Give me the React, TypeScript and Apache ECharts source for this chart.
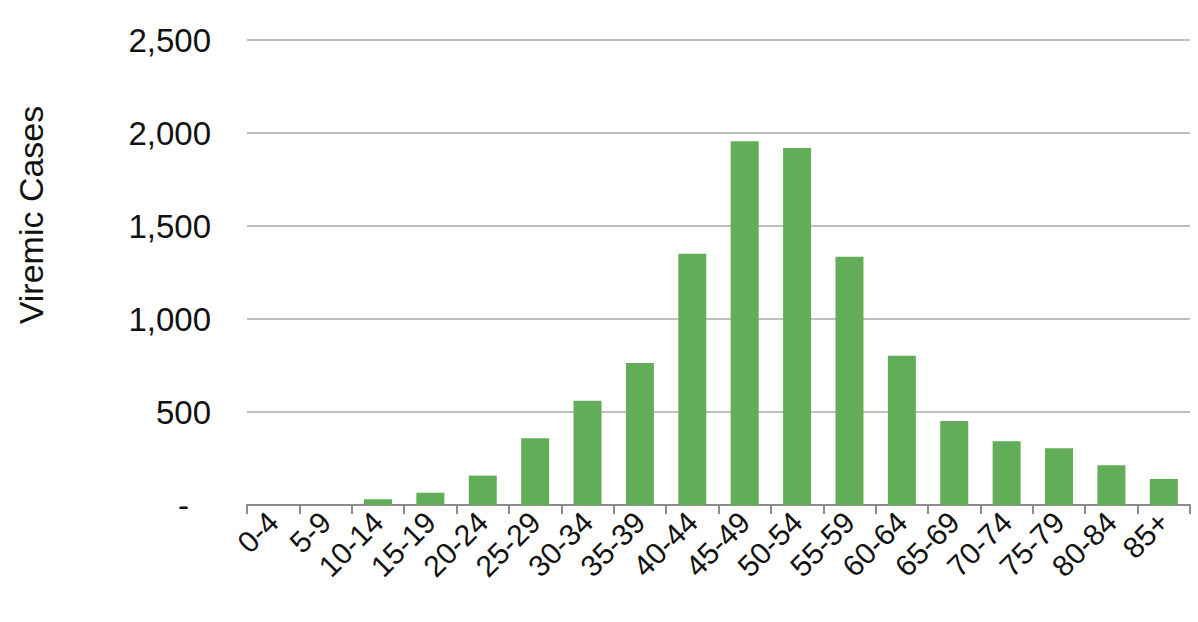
import React, { useEffect, useRef } from "react";
import * as echarts from "echarts";

const categories = ["0-4","5-9","10-14","15-19","20-24","25-29","30-34","35-39","40-44","45-49","50-54","55-59","60-64","65-69","70-74","75-79","80-84","85+"];
const viremicCases = [0,0,31,66,158,359,561,764,1351,1955,1920,1335,802,452,343,305,214,140];
const yTicks = { min: 0, max: 2500, interval: 500 };
const yTitle = "Viremic Cases";

export default function App() {
  const ref = useRef<HTMLDivElement>(null);
  useEffect(() => {
    if (!ref.current) return;
    const chart = echarts.init(ref.current, null, { renderer: "svg" });
    const font = "Liberation Sans, Arial, sans-serif";
    chart.setOption({
      animation: false,
      backgroundColor: "#ffffff",
      grid: { left: 247, right: 8, top: 40, bottom: 117, containLabel: false },
      xAxis: {
        type: "category",
        data: categories,
        axisLine: { lineStyle: { color: "#8c8c8c", width: 2 } },
        axisTick: { show: true, length: 9, lineStyle: { color: "#8c8c8c", width: 2 } },
        axisLabel: { rotate: 45, fontSize: 30, color: "#111", fontFamily: font, margin: 12, interval: 0 },
      },
      yAxis: {
        type: "value",
        min: yTicks.min,
        max: yTicks.max,
        interval: yTicks.interval,
        axisLine: { show: false },
        axisTick: { show: false },
        splitLine: { lineStyle: { color: "#bfbfbf", width: 2 } },
        axisLabel: {
          fontSize: 33,
          color: "#111",
          fontFamily: font,
          margin: 36,
          formatter: (v: number) => (v === 0 ? "{z|-}" : v.toLocaleString("en-US")),
          rich: { z: { fontSize: 33, color: "#111", fontFamily: font, padding: [0, 22, 0, 0] } },
        },
      },
      graphic: [
        {
          type: "text",
          x: 31,
          y: 215,
          rotation: Math.PI / 2,
          style: { text: yTitle, fontSize: 34, fill: "#111", fontFamily: font, align: "center", verticalAlign: "middle" },
        },
      ],
      series: [
        {
          type: "bar",
          data: viremicCases,
          barWidth: 28,
          itemStyle: { color: "#62ad58" },
        },
      ],
    });
    return () => chart.dispose();
  }, []);
  return <div ref={ref} style={{ position: "fixed", left: 0, top: 0, width: 1198, height: 622 }} />;
}
